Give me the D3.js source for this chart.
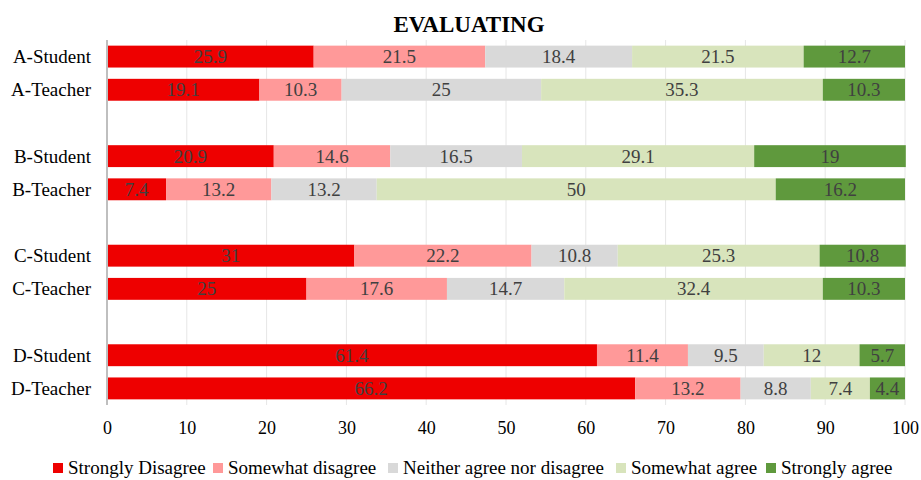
<!DOCTYPE html>
<html>
<head>
<meta charset="utf-8">
<script src="https://cdn.jsdelivr.net/npm/d3@7/dist/d3.min.js"></script>
<style>
  body { margin: 0; background: #fff; }
  svg text { font-family: "Liberation Serif", "Times New Roman", serif; }
</style>
</head>
<body>
<svg id="chart" width="921" height="480"></svg>
<script>
// Row labels; empty strings are spacer rows between the groups
const categories = ["A-Student", "A-Teacher", "", "B-Student", "B-Teacher", "",
                    "C-Student", "C-Teacher", "", "D-Student", "D-Teacher"];
const seriesNames = ["Strongly Disagree", "Somewhat disagree", "Neither agree nor disagree",
                     "Somewhat agree", "Strongly agree"];
const stronglyDisagree = [25.9, 19.1, null, 20.9, 7.4, null, 31, 25, null, 61.4, 66.2];
const somewhatDisagree = [21.5, 10.3, null, 14.6, 13.2, null, 22.2, 17.6, null, 11.4, 13.2];
const neither          = [18.4, 25, null, 16.5, 13.2, null, 10.8, 14.7, null, 9.5, 8.8];
const somewhatAgree    = [21.5, 35.3, null, 29.1, 50, null, 25.3, 32.4, null, 12, 7.4];
const stronglyAgree    = [12.7, 10.3, null, 19, 16.2, null, 10.8, 10.3, null, 5.7, 4.4];
const xTicks = [0, 10, 20, 30, 40, 50, 60, 70, 80, 90, 100];
const colors = ["#EE0000", "#FF9999", "#D9D9D9", "#D8E4BC", "#5F993D"];

const seriesValues = [stronglyDisagree, somewhatDisagree, neither, somewhatAgree, stronglyAgree];
const rows = categories.map((c, i) => {
  const r = { idx: i, label: c };
  seriesNames.forEach((s, k) => { r[s] = seriesValues[k][i] || 0; });
  return r;
});

const svg = d3.select("#chart");
const margin = { top: 40, right: 16, bottom: 75, left: 107 };
const W = 921, H = 480;

const x = d3.scaleLinear().domain([0, 100]).range([margin.left, W - margin.right]);
const y = d3.scaleBand().domain(d3.range(categories.length))
  .range([margin.top, H - margin.bottom]).paddingInner(0.34).paddingOuter(0.17);

// Title
svg.append("text").attr("x", 469).attr("y", 32).attr("text-anchor", "middle")
  .style("font-size", "23px").style("font-weight", "bold").attr("fill", "#000")
  .text("EVALUATING");

// Vertical gridlines
svg.append("g").selectAll("line").data(xTicks.slice(1)).join("line")
  .attr("x1", d => x(d)).attr("x2", d => x(d))
  .attr("y1", margin.top).attr("y2", H - margin.bottom)
  .attr("stroke", "#E6E6E6").attr("stroke-width", 1);

// Stacked bars
const stack = d3.stack().keys(seriesNames)(rows);
const layers = svg.append("g").selectAll("g").data(stack).join("g")
  .attr("fill", (d, i) => colors[i]);
layers.selectAll("rect").data(d => d.filter(p => p.data.label !== "")).join("rect")
  .attr("x", d => x(d[0])).attr("width", d => x(d[1]) - x(d[0]))
  .attr("y", d => y(d.data.idx)).attr("height", y.bandwidth());

// Value labels
const lbl = svg.append("g");
stack.forEach(layer => {
  layer.filter(p => p.data.label !== "").forEach(p => {
    lbl.append("text")
      .attr("x", (x(p[0]) + x(p[1])) / 2)
      .attr("y", y(p.data.idx) + y.bandwidth() / 2)
      .attr("dy", "0.34em").attr("text-anchor", "middle")
      .attr("fill", "#404040").style("font-size", "19px")
      .text(p.data[layer.key]);
  });
});

// Category axis
const yAxis = svg.append("g").attr("transform", `translate(${margin.left},0)`)
  .call(d3.axisLeft(y).tickSize(0).tickPadding(16).tickFormat(i => categories[i]));
yAxis.select(".domain").attr("stroke", "#BFBFBF").attr("stroke-width", 2)
  .attr("d", `M0,${margin.top}V${H - margin.bottom}`);
yAxis.selectAll("text").style("font-size", "19px").attr("fill", "#000")
  .style("font-family", "Liberation Serif, serif").attr("dy", "0.34em");

// Value axis
const xAxis = svg.append("g").attr("transform", `translate(0,${H - margin.bottom})`)
  .call(d3.axisBottom(x).tickValues(xTicks).tickSize(0).tickPadding(16));
xAxis.select(".domain").remove();
xAxis.selectAll("text").style("font-size", "18px").attr("fill", "#000")
  .style("font-family", "Liberation Serif, serif");

// Legend entries
const legendX = [53, 213, 388, 616, 766];
const leg = svg.append("g");
seriesNames.forEach((s, i) => {
  const g = leg.append("g").attr("transform", `translate(${legendX[i]},468)`);
  g.append("rect").attr("x", 0).attr("y", -5).attr("width", 10).attr("height", 10).attr("fill", colors[i]);
  g.append("text").attr("x", 15).attr("dy", "0.34em").style("font-size", "19px")
    .attr("fill", "#000").text(s);
});
</script>
</body>
</html>
